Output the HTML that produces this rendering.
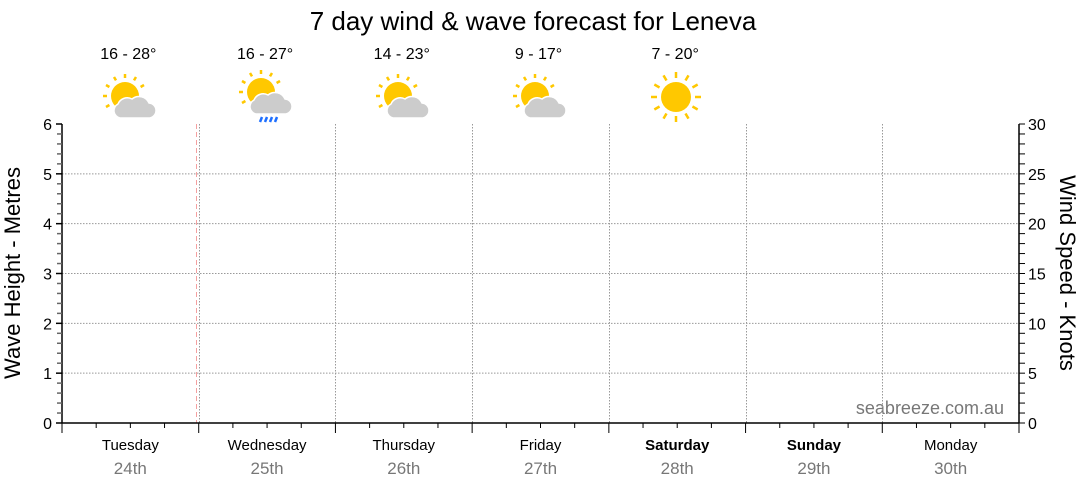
<!DOCTYPE html>
<html><head><meta charset="utf-8"><style>
html,body{margin:0;padding:0;background:#fff;}
svg{display:block;font-family:"Liberation Sans","DejaVu Sans",sans-serif;}
</style></head><body>
<svg id="s" width="1080" height="490" xmlns="http://www.w3.org/2000/svg">
<text x="533" y="30" font-size="26" text-anchor="middle" fill="#000">7 day wind &amp; wave forecast for Leneva</text>
<text x="20" y="273" font-size="22" text-anchor="middle" transform="rotate(-90 20 273)">Wave Height - Metres</text>
<text x="1060" y="273" font-size="22" text-anchor="middle" transform="rotate(90 1060 273)">Wind Speed - Knots</text>
<text x="1004" y="414" font-size="18" text-anchor="end" fill="#777">seabreeze.com.au</text>
<g id="g"></g>
<defs>
<g id="sunsm">
<g stroke="#ffc800" stroke-width="2.5">
<line x1="0" y1="-18" x2="0" y2="-22"/><line x1="9" y1="-15.6" x2="11" y2="-19"/><line x1="-9" y1="-15.6" x2="-11" y2="-19"/>
<line x1="15.6" y1="-9" x2="19" y2="-11"/><line x1="-15.6" y1="-9" x2="-19" y2="-11"/>
<line x1="-18" y1="0" x2="-22" y2="0"/><line x1="-15.6" y1="9" x2="-19" y2="11"/>
</g>
<circle r="14" fill="#ffc800"/>
</g>
<path id="cloud" d="M-5 22 A7.5 7.5 0 0 1 -7 8 A10 10 0 0 1 7 3 A11 11 0 0 1 24 7 A7.5 7.5 0 0 1 23 22 Z" fill="#ccc" stroke="#fff" stroke-width="1.5"/>
</defs>
<g transform="translate(125,96)"><use href="#sunsm"/><use href="#cloud"/></g>
<g transform="translate(261,92)"><use href="#sunsm"/><use href="#cloud"/>
<g stroke="#1e6fff" stroke-width="2.5"><line x1="1" y1="25" x2="-1" y2="30"/><line x1="6" y1="25" x2="4" y2="30"/><line x1="11" y1="25" x2="9" y2="30"/><line x1="16" y1="25" x2="14" y2="30"/></g></g>
<g transform="translate(398,96)"><use href="#sunsm"/><use href="#cloud"/></g>
<g transform="translate(535,96)"><use href="#sunsm"/><use href="#cloud"/></g>
<g transform="translate(676,97)">
<g stroke="#ffc800" stroke-width="2.5" id="rays"></g>
<circle r="15" fill="#ffc800"/></g>
</svg>
<script>
const NS="http://www.w3.org/2000/svg",g=document.getElementById('g');
function el(t,a,txt){const e=document.createElementNS(NS,t);for(const k in a)e.setAttribute(k,a[k]);if(txt!==undefined)e.textContent=txt;g.appendChild(e);return e;}
const L=62,R=1019,T=124,B=423,dw=(R-L)/7;
for(let i=1;i<=5;i++){const y=B-i*(B-T)/6;el('line',{x1:L,x2:R,y1:y,y2:y,stroke:'#999','stroke-dasharray':'1.5,1.5','stroke-width':1});}
for(let d=1;d<7;d++){const x=Math.round(L+d*dw)+0.5;el('line',{x1:x,x2:x,y1:T,y2:B,stroke:'#999','stroke-dasharray':'1.5,1.5','stroke-width':1});}
el('line',{x1:196.5,x2:196.5,y1:T,y2:B,stroke:'#f4a0a0','stroke-dasharray':'5,3','stroke-width':1});
el('line',{x1:L,x2:L,y1:T,y2:B,stroke:'#000','stroke-width':1.5});
el('line',{x1:R,x2:R,y1:T,y2:B,stroke:'#000','stroke-width':1.5});
el('line',{x1:L,x2:R,y1:B,y2:B,stroke:'#000','stroke-width':1.5});
for(let i=0;i<=30;i++){const y=B-i*(B-T)/30;const maj=i%5==0;
el('line',{x1:L-(maj?6:5),x2:L,y1:y,y2:y,stroke:maj?'#000':'#666','stroke-width':1.5});
el('line',{x1:R,x2:R+6,y1:y,y2:y,stroke:'#000','stroke-width':1});
if(maj){el('text',{x:L-10,y:y+6,'font-size':16,'text-anchor':'end'},i/5);
el('text',{x:R+9,y:y+6,'font-size':16},i);}}
for(let q=0;q<=28;q++){const x=L+q*dw/4;el('line',{x1:x,x2:x,y1:B,y2:B+(q%4==0?10:5),stroke:'#000','stroke-width':1});}
const days=[['Tuesday','24th',0],['Wednesday','25th',0],['Thursday','26th',0],['Friday','27th',0],['Saturday','28th',1],['Sunday','29th',1],['Monday','30th',0]];
const temps=['16 - 28°','16 - 27°','14 - 23°','9 - 17°','7 - 20°'];
days.forEach((d,i)=>{const x=L+(i+0.5)*dw;
el('text',{x:x,y:450,'font-size':15,'text-anchor':'middle','font-weight':d[2]?'bold':'normal'},d[0]);
el('text',{x:x,y:474,'font-size':17,'text-anchor':'middle',fill:'#777'},d[1]);
if(i<5)el('text',{x:x-2,y:59,'font-size':16,'text-anchor':'middle'},temps[i]);});
const r=document.getElementById('rays');
for(let k=0;k<12;k++){const a=k*Math.PI/6,c=Math.cos(a),s=Math.sin(a);const l=document.createElementNS(NS,'line');
l.setAttribute('x1',19*c);l.setAttribute('y1',19*s);l.setAttribute('x2',25*c);l.setAttribute('y2',25*s);r.appendChild(l);}
</script>
</body></html>
